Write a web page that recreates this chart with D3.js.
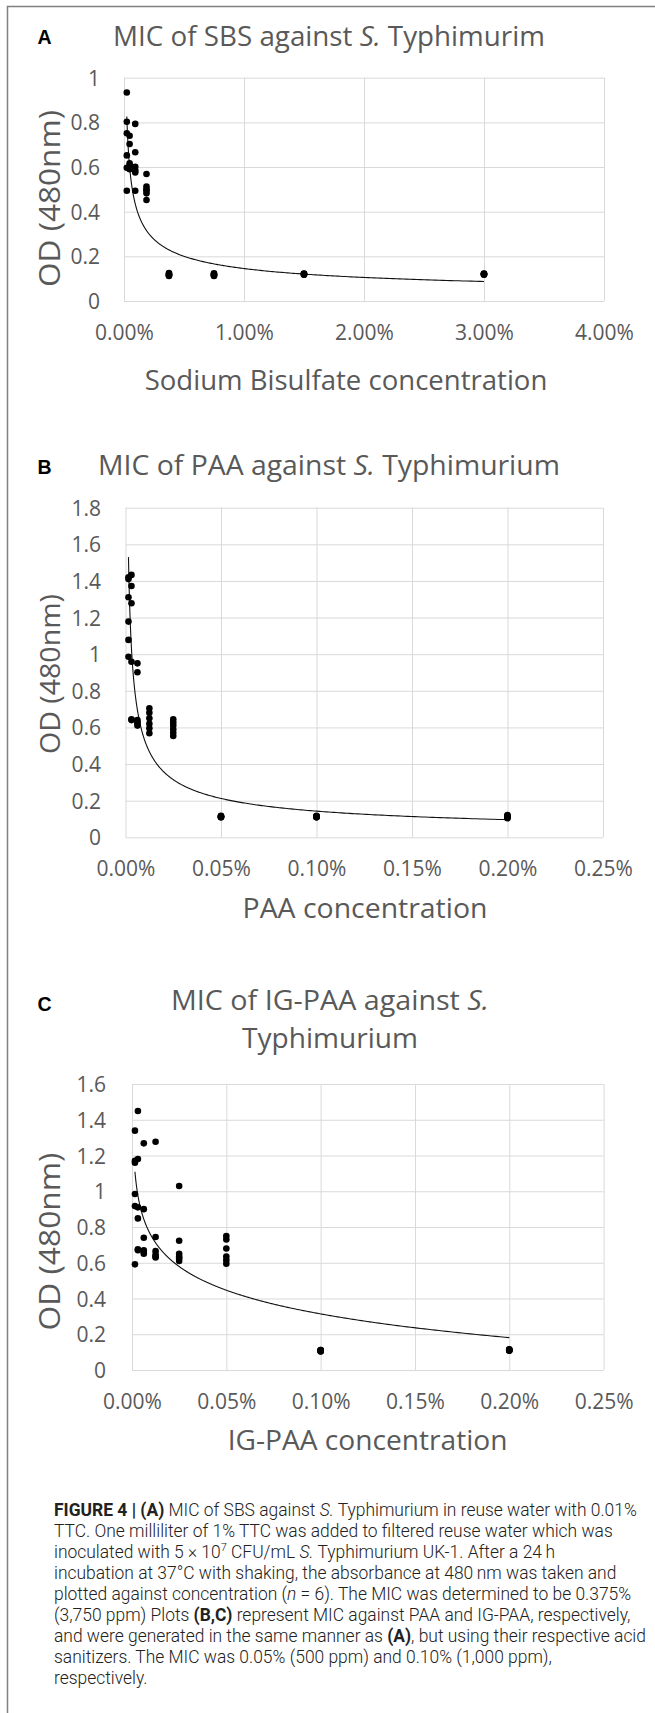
<!DOCTYPE html>
<html>
<head>
<meta charset="utf-8">
<script src="https://cdnjs.cloudflare.com/ajax/libs/d3/7.8.5/d3.min.js"></script>
<style>
  body { margin: 0; background: #fff; }
  svg { display: block; }
</style>
</head>
<body>
<div id="figure"></div>
<script>
// concentrations are in %, six OD readings per concentration (n = 6)
var sbsConc = [0.0234375, 0.046875, 0.09375, 0.1875, 0.375, 0.75, 1.5, 3];
var sbsOD = [
    [0.934, 0.803, 0.751, 0.652, 0.597, 0.494],
    [0.740, 0.703, 0.617, 0.605, 0.594, 0.590],
    [0.793, 0.666, 0.601, 0.585, 0.576, 0.494],
    [0.569, 0.512, 0.500, 0.494, 0.482, 0.452],
    [0.125, 0.122, 0.119, 0.116, 0.114, 0.112],
    [0.124, 0.121, 0.118, 0.116, 0.114, 0.112],
    [0.123, 0.122, 0.121, 0.120, 0.119, 0.118],
    [0.123, 0.122, 0.121, 0.120, 0.119, 0.118]
];

var paaConc = [0.0015625, 0.003125, 0.00625, 0.0125, 0.025, 0.05, 0.1, 0.2];
var paaOD = [
    [1.420, 1.410, 1.311, 1.178, 1.078, 0.986],
    [1.433, 1.372, 1.278, 0.959, 0.645, 0.640],
    [0.950, 0.901, 0.640, 0.631, 0.620, 0.610],
    [0.705, 0.680, 0.650, 0.620, 0.595, 0.568],
    [0.644, 0.627, 0.610, 0.590, 0.571, 0.553],
    [0.117, 0.115, 0.113, 0.112, 0.110, 0.109],
    [0.117, 0.115, 0.113, 0.112, 0.110, 0.109],
    [0.121, 0.118, 0.114, 0.111, 0.107, 0.104]
];

var igpaaConc = [0.0015625, 0.003125, 0.00625, 0.0125, 0.025, 0.05, 0.1, 0.2];
var igpaaOD = [
    [1.339, 1.170, 1.160, 0.985, 0.917, 0.591],
    [1.449, 1.180, 0.910, 0.848, 0.675, 0.670],
    [1.268, 0.900, 0.740, 0.670, 0.660, 0.650],
    [1.277, 0.744, 0.665, 0.645, 0.635, 0.630],
    [1.029, 0.723, 0.650, 0.635, 0.625, 0.610],
    [0.750, 0.730, 0.680, 0.635, 0.615, 0.595],
    [0.112, 0.111, 0.109, 0.107, 0.105, 0.104],
    [0.116, 0.114, 0.112, 0.111, 0.109, 0.108]
];

// tick values
var sbsXTicks = [0, 1, 2, 3, 4];
var sbsYTicks = [0, 0.2, 0.4, 0.6, 0.8, 1];
var paaXTicks = [0, 0.05, 0.1, 0.15, 0.2, 0.25];
var paaYTicks = [0, 0.2, 0.4, 0.6, 0.8, 1, 1.2, 1.4, 1.6, 1.8];
var igpaaXTicks = [0, 0.05, 0.1, 0.15, 0.2, 0.25];
var igpaaYTicks = [0, 0.2, 0.4, 0.6, 0.8, 1, 1.2, 1.4, 1.6];

var captionLines = [
    [["FIGURE 4 | (A)", "b"], [" MIC of SBS against "], ["S.", "i"], [" Typhimurium in reuse water with 0.01%"]],
    [["TTC. One milliliter of 1% TTC was added to filtered reuse water which was"]],
    [["inoculated with 5 \u00d7 10"], ["7", "sup"], [" CFU/mL "], ["S.", "i"], [" Typhimurium UK-1. After a 24\u2009h"]],
    [["incubation at 37\u00b0C with shaking, the absorbance at 480\u2009nm was taken and"]],
    [["plotted against concentration ("], ["n", "i"], [" = 6). The MIC was determined to be 0.375%"]],
    [["(3,750 ppm) Plots "], ["(B,C)", "b"], [" represent MIC against PAA and IG-PAA, respectively,"]],
    [["and were generated in the same manner as "], ["(A)", "b"], [", but using their respective acid"]],
    [["sanitizers. The MIC was 0.05% (500 ppm) and 0.10% (1,000 ppm),"]],
    [["respectively."]]
];

var svgWidth = 655;
var svgHeight = 1713;
var grey = "#595959";

var svg = d3.select("#figure")
    .append("svg")
    .attr("width", svgWidth)
    .attr("height", svgHeight);

svg.append("rect").attr("width", svgWidth).attr("height", svgHeight).attr("fill", "#fff");

// frame round the figure (top and left edges show)
svg.append("path")
    .attr("d", "M" + svgWidth + ",6.5H7.5V" + svgHeight)
    .attr("fill", "none")
    .attr("stroke", "#808080")
    .attr("stroke-width", 1.5);

// Excel style trendlines
function powerFit(pts) {
    var lx = pts.map(d => Math.log(d[0])), ly = pts.map(d => Math.log(d[1]));
    var mx = d3.mean(lx), my = d3.mean(ly);
    var sxy = d3.sum(lx, (v, i) => (v - mx) * (ly[i] - my));
    var sxx = d3.sum(lx, v => (v - mx) * (v - mx));
    var b = sxy / sxx, a = Math.exp(my - b * mx);
    return x => a * Math.pow(x, b);
}

function logFit(pts) {
    var lx = pts.map(d => Math.log(d[0])), ys = pts.map(d => d[1]);
    var mx = d3.mean(lx), my = d3.mean(ys);
    var sxy = d3.sum(lx, (v, i) => (v - mx) * (ys[i] - my));
    var sxx = d3.sum(lx, v => (v - mx) * (v - mx));
    var b = sxy / sxx, a = my - b * mx;
    return x => a + b * Math.log(x);
}

// place a text, then stretch it along its own direction to a target length
function fitLabel(g, width) {
    var t = g.select("text");
    var w = t.node().getComputedTextLength();
    return width / w;
}

function addText(parts, cx, y, size, width, rotate) {
    var g = svg.append("g");
    var t = g.append("text")
        .attr("text-anchor", "middle")
        .attr("fill", grey)
        .style("font-family", "'Open Sans', sans-serif")
        .style("font-size", size + "px");
    parts.forEach(function(p) {
        t.append("tspan").text(p[0]).style("font-style", p[1] === "i" ? "italic" : null);
    });
    var s = width ? fitLabel(g, width) : 1;
    g.attr("transform", `translate(${cx},${y})` + (rotate ? " rotate(-90)" : "") + ` scale(${s},1)`);
    return g;
}

function drawPanel(p) {
    var chartWidth = p.right - p.left;
    var chartHeight = p.bottom - p.top;

    var xScale = d3.scaleLinear().domain([p.xTicks[0], p.xTicks[p.xTicks.length - 1]]).range([p.left, p.right]);
    var yScale = d3.scaleLinear().domain([p.yTicks[0], p.yTicks[p.yTicks.length - 1]]).range([p.bottom, p.top]);

    var xAxis = svg.append("g")
        .attr("transform", `translate(0, ${p.bottom})`)
        .call(d3.axisBottom(xScale).tickValues(p.xTicks).tickSize(-chartHeight)
            .tickFormat(d => d.toFixed(2) + "%"));

    var yAxis = svg.append("g")
        .attr("transform", `translate(${p.left}, 0)`)
        .call(d3.axisLeft(yScale).tickValues(p.yTicks).tickSize(-chartWidth)
            .tickFormat(d => String(+d.toFixed(1))));

    [xAxis, yAxis].forEach(function(ax) {
        ax.select(".domain").remove();
        ax.selectAll(".tick line").attr("stroke", "#d9d9d9").attr("stroke-width", 1);
        ax.selectAll(".tick text")
            .attr("fill", grey)
            .style("font-family", "'Open Sans', sans-serif")
            .style("font-size", "21px");
    });
    xAxis.selectAll(".tick text").attr("y", 39).attr("dy", 0);
    yAxis.selectAll(".tick text").attr("x", -p.yGap).attr("dy", "0.357em");

    // points
    var pts = [];
    p.conc.forEach(function(c, i) {
        p.od[i].forEach(function(v) { pts.push([c, v]); });
    });

    // trendline
    var f = p.fit(pts);
    var xmin = d3.min(p.conc), xmax = d3.max(p.conc);
    var curve = d3.range(0, 401).map(i => xmin * Math.pow(xmax / xmin, i / 400));
    svg.append("path")
        .datum(curve)
        .attr("fill", "none")
        .attr("stroke", "#111")
        .attr("stroke-width", 1.1)
        .attr("d", d3.line().x(d => xScale(d)).y(d => yScale(f(d))));

    svg.append("g").selectAll("circle")
        .data(pts)
        .enter()
        .append("circle")
        .attr("cx", d => xScale(d[0]))
        .attr("cy", d => yScale(d[1]))
        .attr("r", 3.3)
        .attr("fill", "#000");

    // panel letter
    svg.append("text")
        .attr("x", 37.5)
        .attr("y", p.letterY)
        .style("font-family", "'Liberation Sans', Arial, sans-serif")
        .style("font-weight", "bold")
        .style("font-size", "19.5px")
        .attr("fill", "#000")
        .text(p.letter);

    // titles
    p.title.forEach(function(line) {
        addText(line.parts, line.cx, line.y, 28, line.w);
    });
    addText([[p.xTitle]], p.xTitleX, p.xTitleY, 28, p.xTitleW);
    addText([["OD (480nm)"]], p.yTitleX, p.yTitleY, p.yTitleSize, p.yTitleW, true);
}

drawPanel({
    letter: "A", letterY: 44,
    conc: sbsConc, od: sbsOD, fit: powerFit,
    xTicks: sbsXTicks, yTicks: sbsYTicks,
    left: 124, right: 604, top: 77.7, bottom: 301, yGap: 24,
    title: [{ parts: [["MIC of SBS against "], ["S.", "i"], [" Typhimurim"]], cx: 329, y: 46, w: 432 }],
    xTitle: "Sodium Bisulfate concentration", xTitleX: 346, xTitleY: 390, xTitleW: 403,
    yTitleX: 60, yTitleY: 198.5, yTitleSize: 29, yTitleW: 177
});

drawPanel({
    letter: "B", letterY: 474,
    conc: paaConc, od: paaOD, fit: powerFit,
    xTicks: paaXTicks, yTicks: paaYTicks,
    left: 125.5, right: 603, top: 507.7, bottom: 837.3, yGap: 24.5,
    title: [{ parts: [["MIC of PAA against "], ["S.", "i"], [" Typhimurium"]], cx: 329, y: 475, w: 462 }],
    xTitle: "PAA concentration", xTitleX: 365, xTitleY: 918, xTitleW: 245,
    yTitleX: 59.5, yTitleY: 674, yTitleSize: 28, yTitleW: 160
});

drawPanel({
    letter: "C", letterY: 1010.5,
    conc: igpaaConc, od: igpaaOD, fit: logFit,
    xTicks: igpaaXTicks, yTicks: igpaaYTicks,
    left: 132, right: 603.6, top: 1084, bottom: 1370, yGap: 26,
    title: [
        { parts: [["MIC of IG-PAA against "], ["S.", "i"]], cx: 330, y: 1010, w: 318 },
        { parts: [["Typhimurium"]], cx: 330, y: 1048, w: 176 }
    ],
    xTitle: "IG-PAA concentration", xTitleX: 367.6, xTitleY: 1450, xTitleW: 280,
    yTitleX: 60, yTitleY: 1241.5, yTitleSize: 29, yTitleW: 178
});

// caption
var capLeft = 54, capTop = 1516, capStep = 21, capFull = 592.5;
var capGroup = svg.append("g");
var capTexts = captionLines.map(function(line, i) {
    var t = capGroup.append("text")
        .attr("fill", "#222")
        .style("font-family", "Roboto, 'Liberation Sans', sans-serif")
        .style("font-weight", 300)
        .style("font-size", "17.5px");
    var shifted = false;
    line.forEach(function(seg) {
        var ts = t.append("tspan").text(seg[0]);
        if (seg[1] === "b") ts.style("font-weight", "bold");
        if (seg[1] === "i") ts.style("font-style", "italic");
        if (seg[1] === "sup") { ts.attr("dy", -7).style("font-size", "11px"); shifted = true; }
        else if (shifted) { ts.attr("dy", 7); shifted = false; }
    });
    return t;
});
var capScale = capFull / capTexts[6].node().getComputedTextLength();
capTexts.forEach(function(t, i) {
    t.attr("transform", `translate(${capLeft},${capTop + i * capStep}) scale(${capScale},1)`);
});
</script>
</body>
</html>
